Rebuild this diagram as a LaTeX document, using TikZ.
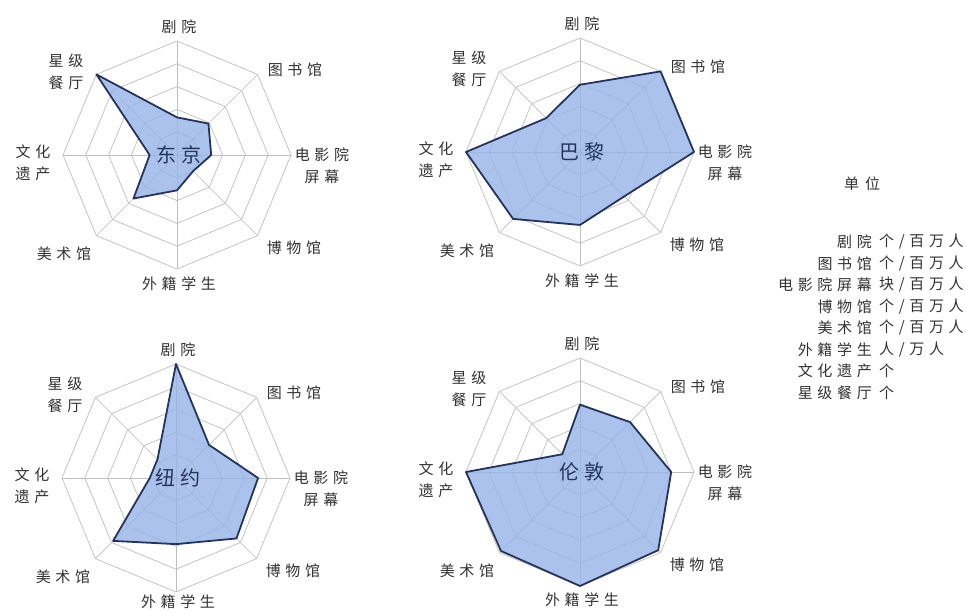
\documentclass[tikz,border=0pt]{standalone}
\usepackage{fontspec}
\newfontfamily\lblfont[LetterSpace=31]{Noto Sans CJK SC}
\newfontfamily\ctrfont[LetterSpace=28]{Noto Sans CJK SC}
\definecolor{gridgray}{RGB}{190,190,190}
\definecolor{fillblue}{RGB}{150,180,232}
\definecolor{navy}{RGB}{38,52,92}
\definecolor{labelgray}{RGB}{50,50,50}
\tikzset{
  gridline/.style={draw=gridgray, line width=0.7pt},
  datapoly/.style={draw=navy, line width=1.8pt, fill=fillblue, fill opacity=0.8, line join=round},
  axlabel/.style={font=\lblfont\fontsize{15}{22}\selectfont, text=labelgray, align=center, inner sep=0pt},
  ctrlabel/.style={font=\ctrfont\fontsize{20}{24}\selectfont, text=navy, inner sep=0pt},
  legname/.style={font=\lblfont\fontsize{15}{20}\selectfont, text=labelgray, anchor=east, inner sep=0pt},
  legunit/.style={font=\lblfont\fontsize{15}{20}\selectfont, text=labelgray, anchor=west, inner sep=0pt},
}
\newcommand\radarchart[5]{%
  \begin{scope}[shift={#2}]
    \begin{scope}[yscale=-1]
      \foreach \k in {1,...,5}{
        \draw[gridline] (90:{\k*22.8}) -- (45:{\k*22.8}) -- (0:{\k*22.8}) -- (-45:{\k*22.8})
          -- (-90:{\k*22.8}) -- (-135:{\k*22.8}) -- (180:{\k*22.8}) -- (135:{\k*22.8}) -- cycle;
      }
      \foreach \a in {90,45,...,-225} \draw[gridline] (0,0) -- (\a:114);
      \foreach \v [count=\i from 0] in {#3} \coordinate (#1p\i) at ({90-45*\i}:{\v*114});
      \draw[datapoly] (#1p0) -- (#1p1) -- (#1p2) -- (#1p3) -- (#1p4) -- (#1p5) -- (#1p6) -- (#1p7) -- cycle;
    \end{scope}
    \node[ctrlabel] (#1c) at (2,0) {#4};
    \node[axlabel] (#1l0) at (2,-128) {剧院};
    \node[axlabel] (#1l1) at (118,-85) {图书馆};
    \node[axlabel] (#1l2) at (145,11) {电影院\\屏幕};
    \node[axlabel] (#1l3) at (117,93) {博物馆};
    \node[axlabel] (#1l4) at (2,#5) {外籍学生};
    \node[axlabel] (#1l5) at (-113,99) {美术馆};
    \node[axlabel] (#1l6) at (-144,8) {文化\\遗产};
    \node[axlabel] (#1l7) at (-111,-83) {星级\\餐厅};
  \end{scope}%
}
\begin{document}
\begin{tikzpicture}[x=1pt,y=-1pt]
  \path[fill=white, use as bounding box] (0,0) rectangle (966,612);
  \radarchart{tk}{(177,155)}{0.33,0.39,0.30,0.20,0.31,0.54,0.24,1.0}{东京}{129}
  \radarchart{pa}{(580,152)}{0.59,1.0,1.0,0.55,0.64,0.83,1.0,0.42}{巴黎}{129}
  \radarchart{ny}{(176,478)}{1.0,0.41,0.72,0.75,0.58,0.78,0.23,0.23}{纽约}{124}
  \radarchart{ld}{(580,472)}{0.59,0.62,0.80,0.97,1.0,0.98,1.0,0.22}{伦敦}{128}
  % legend
  \node[font=\lblfont\fontsize{15}{20}\selectfont, text=labelgray, inner sep=0pt] (unit) at (862,184) {单\hspace{6pt}位};
  \foreach \n/\u [count=\j from 0] in {剧院/{个/百万人}, 图书馆/{个/百万人}, 电影院屏幕/{块/百万人}, 博物馆/{个/百万人}, 美术馆/{个/百万人}, 外籍学生/{人/万人}, 文化遗产/{个}, 星级餐厅/{个}}{
    \node[legname] (ln\j) at (872,{242+21.5*\j}) {\n};
    \node[legunit] (lu\j) at (879,{242+21.5*\j}) {\u};
  }
\end{tikzpicture}
\end{document}
